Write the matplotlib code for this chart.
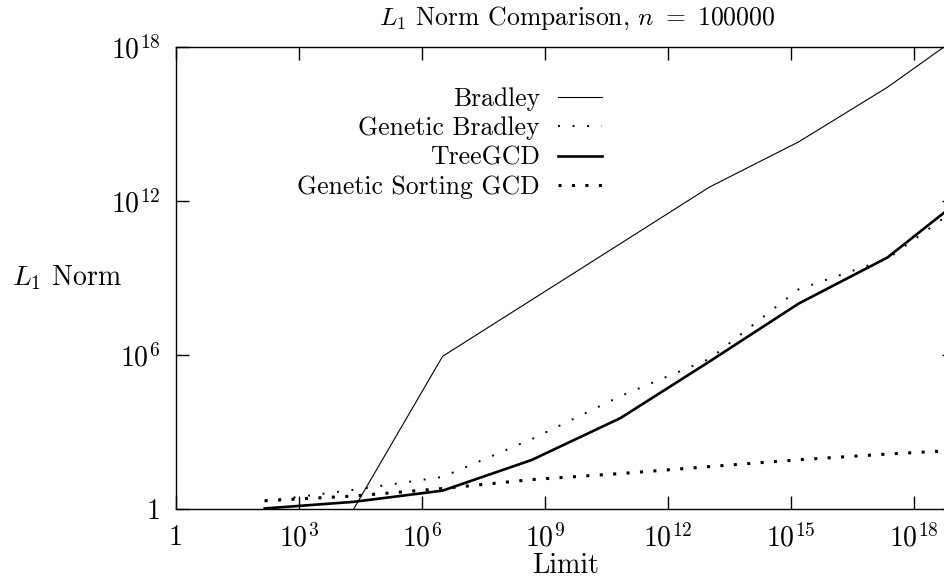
import numpy as np
import matplotlib
matplotlib.use("Agg")
import matplotlib.pyplot as plt

plt.rcParams['font.family'] = 'cmr10'
plt.rcParams['mathtext.fontset'] = 'cm'
plt.rcParams['axes.unicode_minus'] = False

# data (log-log)
limit = [1.48e2, 2.19e4, 3.24e6, 4.79e8, 7.08e10, 1.05e13, 1.55e15, 2.29e17, 3.39e19]
bradley = [np.nan, 1.0, 8.9e5, 1.4e8, 2.2e10, 3.5e12, 2.0e14, 2.7e16, 8.0e18]
genetic_bradley = [2.0, 5.6, 17.8, 525, 2.5e4, 7.1e5, 3.6e8, 5.6e9, 1.8e12]
tree_gcd = [1.05, 1.9, 5.2, 81, 3.5e3, 5.6e5, 1.0e8, 6.3e9, 3.5e12]
genetic_sorting = [2.1, 3.2, 6.3, 14, 24, 45, 83, 138, 214]

xticks = [1, 1e3, 1e6, 1e9, 1e12, 1e15, 1e18]
xticklabels = ['1', '$10^{3}$', '$10^{6}$', '$10^{9}$', '$10^{12}$', '$10^{15}$', '$10^{18}$']
yticks = [1, 1e6, 1e12, 1e18]
yticklabels = ['1', '$10^{6}$', '$10^{12}$', '$10^{18}$']

fs = 20      # tick labels, axis labels
fs_txt = 18.5  # title and legend

fig = plt.figure(figsize=(9.44, 5.81), dpi=100)
ax = fig.add_axes([175.7 / 944, 72 / 581, 779 / 944, 462 / 581])

ax.plot(limit, bradley, color='black', lw=0.8, label='Bradley')
ax.plot(limit, genetic_bradley, color='black', lw=1.4, ls=(0, (1, 6.5)), label='Genetic Bradley')
ax.plot(limit, tree_gcd, color='black', lw=1.9, label='TreeGCD')
ax.plot(limit, genetic_sorting, color='black', lw=2.2, ls=(0, (1, 3.4)), label='Genetic Sorting GCD')

ax.set_xscale('log')
ax.set_yscale('log')
ax.set_xlim(1, 1e19)
ax.set_ylim(1, 1e18)

ax.set_xticks(xticks, labels=xticklabels)
ax.set_yticks(yticks, labels=yticklabels)
ax.minorticks_off()
ax.tick_params(which='major', direction='in', length=9.5, width=1.0,
               top=True, right=True, labelsize=fs, pad=11)
for s in ax.spines.values():
    s.set_linewidth(1.0)

ax.set_xlabel('Limit', fontsize=fs, va='center')
ax.xaxis.set_label_coords(0.5, -0.123)
ax.set_ylabel('$L_1$ Norm', fontsize=fs, rotation=0, ha='left', va='center')
ax.yaxis.set_label_coords(-0.21, 0.5)

fig.text(577 / 944, 1 - 25 / 581, r'$L_1$ Norm Comparison, $n\ =\ 100000$',
         fontsize=fs_txt, ha='center', va='baseline')

ax.legend(loc='upper right', bbox_to_anchor=(602 / 944, 1 - 87 / 581),
          bbox_transform=fig.transFigure, frameon=False, markerfirst=False,
          fontsize=fs_txt, handlelength=1.7, handletextpad=0.72,
          labelspacing=0.22, borderpad=0, borderaxespad=0)

fig.savefig('out.png', dpi=100)
